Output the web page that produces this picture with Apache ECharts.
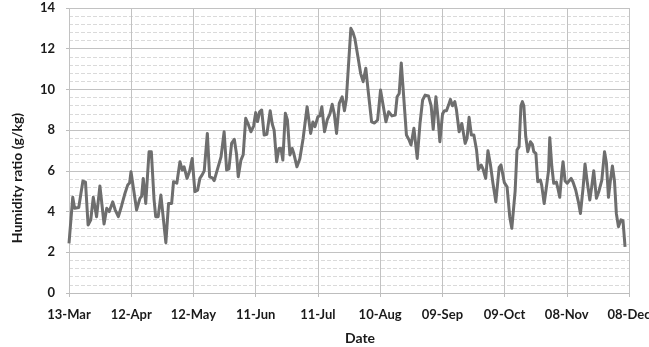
<!DOCTYPE html>
<html>
<head>
<meta charset="utf-8">
<script src="https://cdn.jsdelivr.net/npm/echarts@6/dist/echarts.min.js"></script>
<style>
  html, body { margin: 0; padding: 0; background: #ffffff; }
  #chart { width: 649px; height: 347px; }
</style>
</head>
<body>
<div id="chart"></div>
<script>
// Days since 13-Mar for each reading
const days = [
  0, 1.8, 2.7, 3.6, 4.7, 5.3, 6.7, 7.95, 9.2, 10.5,
  11.7, 13.3, 14.9, 16.9, 18.2, 19.4, 21.1, 22.2, 23.8, 25.4,
  27.0, 28.3, 29.2, 29.9, 30.8, 32.6, 33.5, 34.2, 35.0, 35.8,
  37.0, 38.6, 39.7, 41.0, 41.8, 43.0, 44.3, 45.1, 46.7, 48.0,
  49.5, 50.4, 52.0, 53.5, 54.6, 55.5, 56.9, 58.2, 59.4, 60.7,
  62.0, 63.1, 64.2, 65.2, 66.7, 67.8, 69.1, 70.0, 71.7, 73.3,
  74.8, 76.0, 77.1, 78.4, 79.7, 80.8, 81.6, 82.9, 84.0, 85.2,
  86.4, 87.7, 89.0, 90.0, 90.9, 91.9, 92.9, 94.1, 95.4, 97.0,
  98.0, 98.9, 100.1, 101.2, 102.2, 103.1, 104.3, 105.3, 106.5, 107.6,
  108.4, 109.9, 111.3, 112.9, 114.8, 116.5, 117.6, 118.6, 120.0, 121.0,
  121.9, 123.2, 124.5, 125.8, 126.9, 127.9, 129.0, 130.3, 131.7, 132.8,
  133.7, 134.7, 135.9, 136.9, 137.8, 139.3, 140.6, 141.8, 143.1, 144.2,
  145.9, 147.3, 148.8, 150.2, 151.5, 152.8, 154.1, 155.7, 157.3, 158.2,
  159.2, 160.2, 161.1, 162.7, 164.0, 164.9, 166.3, 167.0, 167.9, 169.2,
  170.5, 171.7, 173.3, 174.6, 175.6, 176.9, 178.0, 178.8, 180.1, 181.0,
  182.0, 183.0, 183.9, 184.9, 186.0, 186.8, 188.1, 189.4, 191.0, 191.9,
  192.9, 194.0, 195.2, 196.5, 197.4, 198.7, 199.6, 200.9, 202.0, 203.2,
  204.4, 205.8, 207.4, 208.3, 209.9, 211.2, 212.5, 213.5, 214.1, 215.1,
  216.0, 217.0, 217.9, 218.6, 219.3, 220.2, 221.2, 222.5, 223.4, 224.1,
  225.1, 226.0, 227.3, 227.9, 229.1, 230.2, 231.2, 231.8, 232.8, 233.7,
  235.0, 235.8, 236.6, 237.6, 238.2, 239.2, 240.2, 241.1, 242.1, 243.0,
  244.3, 245.6, 246.6, 247.9, 248.8, 249.8, 251.1, 252.0, 253.0, 254.3,
  255.5, 256.9, 258.2, 259.1, 260.1, 261.0, 262.0, 263.0, 263.9, 264.9,
  266.1, 267.1, 268.1
];

// Humidity ratio, g/kg
const humidity = [
  2.44, 4.70, 4.16, 4.25, 4.20, 4.25, 5.50, 5.45, 3.34, 3.60,
  4.70, 3.75, 5.26, 3.39, 4.16, 4.00, 4.48, 4.10, 3.75, 4.30,
  4.90, 5.30, 5.40, 5.96, 5.90, 4.08, 4.00, 4.65, 4.75, 5.63,
  4.40, 6.94, 6.94, 4.60, 3.75, 3.75, 4.81, 4.75, 2.47, 4.40,
  4.40, 5.47, 5.40, 6.45, 6.04, 6.20, 5.63, 6.00, 6.61, 4.98,
  5.05, 5.63, 5.80, 6.00, 7.84, 5.71, 5.65, 5.52, 6.12, 6.69,
  7.92, 6.04, 6.10, 7.35, 7.55, 6.80, 5.71, 6.53, 6.80, 8.58,
  8.30, 7.92, 8.20, 8.86, 8.42, 8.90, 8.99, 7.76, 7.80, 8.95,
  8.30, 8.00, 6.45, 7.10, 7.10, 6.53, 8.83, 8.50, 6.78, 7.10,
  6.85, 6.20, 6.60, 7.60, 9.15, 7.84, 8.40, 8.17, 8.66, 8.70,
  9.15, 7.92, 8.50, 8.80, 9.27, 8.80, 7.84, 9.32, 9.64, 8.95,
  9.50, 11.10, 13.00, 12.80, 12.51, 11.60, 10.79, 10.38, 11.04, 9.97,
  8.41, 8.35, 8.50, 9.97, 9.20, 8.41, 8.90, 8.70, 8.74, 9.64,
  9.80, 11.30, 11.25, 7.76, 7.51, 7.27, 8.09, 8.05, 6.61, 8.30,
  9.48, 9.72, 9.68, 9.20, 8.04, 9.64, 8.50, 7.43, 8.80, 8.95,
  8.95, 9.23, 9.51, 9.20, 9.40, 9.00, 7.92, 8.33, 7.35, 7.60,
  8.63, 7.76, 7.76, 7.02, 6.07, 6.29, 6.10, 5.63, 6.99, 6.30,
  5.39, 4.48, 6.17, 6.29, 5.42, 5.22, 3.75, 3.18, 3.09, 5.00,
  7.02, 7.19, 9.20, 9.40, 9.20, 7.70, 6.94, 7.43, 7.30, 6.94,
  6.86, 5.47, 5.55, 5.30, 4.40, 5.22, 6.00, 7.63, 6.20, 5.39,
  5.45, 5.10, 4.70, 5.90, 6.45, 5.50, 5.39, 5.45, 5.63, 5.45,
  5.06, 4.48, 3.91, 5.20, 6.34, 5.50, 4.57, 5.20, 6.00, 4.65,
  5.00, 5.55, 6.94, 6.40, 4.70, 5.50, 6.24, 5.50, 3.91, 3.26,
  3.59, 3.55, 2.27
];

// Date tick labels, one every 30 days from 13-Mar
const dateTicks = ['13-Mar', '12-Apr', '12-May', '11-Jun', '11-Jul', '10-Aug', '09-Sep', '09-Oct', '08-Nov', '08-Dec'];

const series = days.map((d, i) => [d, humidity[i]]);

const chart = echarts.init(document.getElementById('chart'), null, { renderer: 'canvas' });
const labelFont = { fontFamily: 'Lato', fontWeight: 'bold', fontSize: 13, color: '#1a1a1a' };
const titleStyle = { fontFamily: 'Lato', fontWeight: 'bold', fontSize: 14, fill: '#1a1a1a', textAlign: 'center', textVerticalAlign: 'middle' };

chart.setOption({
  animation: false,
  backgroundColor: '#ffffff',
  grid: { left: 69, right: 20, top: 8, bottom: 54, containLabel: false, outerBoundsMode: 'none' },
  xAxis: {
    type: 'value',
    min: 0,
    max: 270,
    interval: 30,
    axisLine: { show: true, onZero: false, lineStyle: { color: '#bdbdbd', width: 1 } },
    axisTick: { show: true, length: 4, lineStyle: { color: '#bdbdbd' } },
    axisLabel: Object.assign({
      margin: 15,
      hideOverlap: false,
      formatter: v => dateTicks[Math.round(v / 30)] || ''
    }, labelFont),
    splitLine: { show: true, lineStyle: { color: '#c2c2c2', width: 1 } }
  },
  yAxis: {
    type: 'value',
    min: 0,
    max: 14,
    interval: 2,
    axisLine: { show: false },
    axisTick: { show: true, length: 3, lineStyle: { color: '#bdbdbd' } },
    axisLabel: Object.assign({ margin: 14 }, labelFont),
    splitLine: { show: true, lineStyle: { color: '#c2c2c2', width: 1 } },
    minorTick: { show: false, splitNumber: 5 },
    minorSplitLine: { show: true, lineStyle: { color: '#dadada', width: 1, type: [4, 2] } }
  },
  graphic: [{
    type: 'text',
    x: 17,
    y: 178,
    rotation: Math.PI / 2,
    style: Object.assign({ text: 'Humidity ratio (g/kg)' }, titleStyle)
  }, {
    type: 'text',
    x: 360,
    y: 338,
    style: Object.assign({ text: 'Date' }, titleStyle)
  }],
  series: [{
    type: 'line',
    data: series,
    showSymbol: false,
    symbol: 'none',
    lineStyle: { color: '#6e6e6e', width: 3, join: 'round' },
    z: 5
  }]
});
</script>
</body>
</html>
